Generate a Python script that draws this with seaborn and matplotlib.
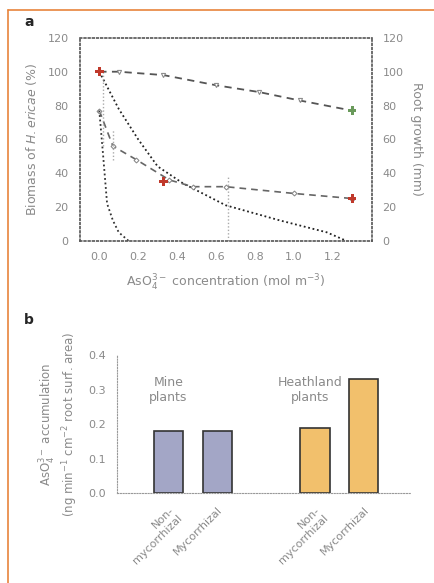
import numpy as np
import pandas as pd
import matplotlib
matplotlib.use("Agg")
import matplotlib.pyplot as plt
import seaborn as sns
from matplotlib.lines import Line2D

# Panel a: biomass / root growth against arsenate concentration
conc_top = [0.0, 0.1, 0.33, 0.6, 0.82, 1.03, 1.3]
biomass_top = [100, 100, 98, 92, 88, 83, 77]

conc_curve = [0.0, 0.1, 0.2, 0.3, 0.43, 0.65, 0.93, 1.17, 1.27]
biomass_curve = [100, 78, 60, 44, 34, 21, 12, 5, 0]

conc_mid = [0.0, 0.07, 0.19, 0.36, 0.48, 0.65, 1.0, 1.3]
biomass_mid = [77, 56, 48, 36, 32, 32, 28, 25]

conc_steep = [0.0, 0.02, 0.04, 0.07, 0.1, 0.15]
biomass_steep = [77, 50, 22, 12, 5, 0]

# error bars (x, low, high)
err_x = [0.02, 0.07, 0.66]
err_lo = [56, 48, 0]
err_hi = [100, 66, 38]

star_red_x = [0.0, 0.33, 1.3]
star_red_y = [100, 35, 25]
star_green_x = [1.3]
star_green_y = [77]

# Panel b: arsenate accumulation
bar_labels = ["Non-\nmycorrhizal", "Mycorrhizal", "Non-\nmycorrhizal", "Mycorrhizal"]
bar_pos = [0, 1, 3, 4]
bar_vals = [0.18, 0.18, 0.19, 0.33]
bar_group = ["Mine", "Mine", "Heathland", "Heathland"]

sns.set_style("white")
plt.rcParams["font.family"] = ["DejaVu Sans"]
txt = "#8a8a8a"

fig = plt.figure(figsize=(4.34, 5.83), dpi=100)

# orange frame on top and left
fig.add_artist(Line2D([8 / 434, 1.0], [1 - 10 / 583, 1 - 10 / 583], color="#e8843c", lw=1.2))
fig.add_artist(Line2D([8 / 434, 8 / 434], [0.0, 1 - 10 / 583], color="#e8843c", lw=1.2))

# ---- panel a ----
ax = fig.add_axes([0.184, 0.587, 0.672, 0.348])
sns.lineplot(x=conc_top, y=biomass_top, ax=ax, color="#555555", lw=1.3,
             linestyle=(0, (4, 3)), marker="v", markersize=3, mfc="white", mec="#888888")
sns.lineplot(x=conc_curve, y=biomass_curve, ax=ax, color="#222222", lw=1.3,
             linestyle=(0, (1, 1.5)))
sns.lineplot(x=conc_mid, y=biomass_mid, ax=ax, color="#666666", lw=1.2,
             linestyle=(0, (4, 3)), marker="D", markersize=2.5, mfc="white", mec="#888888")
sns.lineplot(x=conc_steep, y=biomass_steep, ax=ax, color="#333333", lw=1.3,
             linestyle=(0, (1, 1.5)))
ax.vlines(err_x, err_lo, err_hi, colors="#aaaaaa", linestyles=(0, (1, 1.5)), lw=1)
sns.scatterplot(x=star_red_x, y=star_red_y, ax=ax, marker="P", s=40, color="#c0392b",
                edgecolor="none", zorder=5)
sns.scatterplot(x=star_green_x, y=star_green_y, ax=ax, marker="P", s=40, color="#6a9a5b",
                edgecolor="none", zorder=5)

ax.set_xlim(-0.1, 1.4)
ax.set_ylim(0, 120)
ax.set_xticks([0.0, 0.2, 0.4, 0.6, 0.8, 1.0, 1.2])
ax.set_xticklabels(["0.0", "0.2", "0.4", "0.6", "0.8", "1.0", "1.2"])
ax.set_yticks(range(0, 121, 20))
for s in ax.spines.values():
    s.set_linestyle((0, (1, 1.5)))
    s.set_color("#555555")
    s.set_linewidth(1.2)
ax.tick_params(colors=txt, labelsize=8, length=0, pad=8)
ax.set_xlabel("AsO$_4^{3-}$ concentration (mol m$^{-3}$)", color=txt, fontsize=9, labelpad=8)
ax.set_ylabel("Biomass of $H. ericae$ (%)", color=txt, fontsize=9, labelpad=6)

ax2 = ax.twinx()
ax2.set_ylim(0, 120)
ax2.set_yticks(range(0, 121, 20))
ax2.tick_params(colors=txt, labelsize=8, length=0, pad=8)
for s in ax2.spines.values():
    s.set_visible(False)
ax2.set_ylabel("Root growth (mm)", color=txt, fontsize=9, rotation=270, labelpad=14)

fig.text(24 / 434, 1 - 22 / 583, "a", fontsize=10, fontweight="bold", va="center")

# ---- panel b ----
bx = fig.add_axes([0.27, 0.154, 0.675, 0.237])
df = pd.DataFrame({"pos": bar_pos, "val": bar_vals, "group": bar_group})
sns.barplot(data=df, x="pos", y="val", hue="group", native_scale=True, width=0.6,
            palette={"Mine": "#a3a6c6", "Heathland": "#f2c06c"}, saturation=1,
            edgecolor="#333333", linewidth=1.2, legend=False, ax=bx)
bx.set_xlim(-1.05, 4.95)
bx.set_ylim(0, 0.4)
bx.set_yticks([0.0, 0.1, 0.2, 0.3, 0.4])
bx.set_xticks(bar_pos)
bx.set_xticklabels(bar_labels, rotation=45, ha="right", rotation_mode="anchor")
for k in ["top", "right"]:
    bx.spines[k].set_visible(False)
for k in ["left", "bottom"]:
    bx.spines[k].set_linestyle((0, (1, 1.5)))
    bx.spines[k].set_color("#999999")
bx.tick_params(colors=txt, labelsize=8, length=0, pad=8)
bx.set_xlabel("")
bx.set_ylabel("AsO$_4^{3-}$ accumulation\n(ng min$^{-1}$ cm$^{-2}$ root surf. area)",
              color=txt, fontsize=8.5, labelpad=6)
bx.text(0.0, 0.3, "Mine\nplants", color=txt, fontsize=9, ha="center", va="center")
bx.text(2.9, 0.3, "Heathland\nplants", color=txt, fontsize=9, ha="center", va="center")

fig.text(24 / 434, 1 - 320 / 583, "b", fontsize=10, fontweight="bold", va="center")

fig.savefig("out.png", dpi=100)
